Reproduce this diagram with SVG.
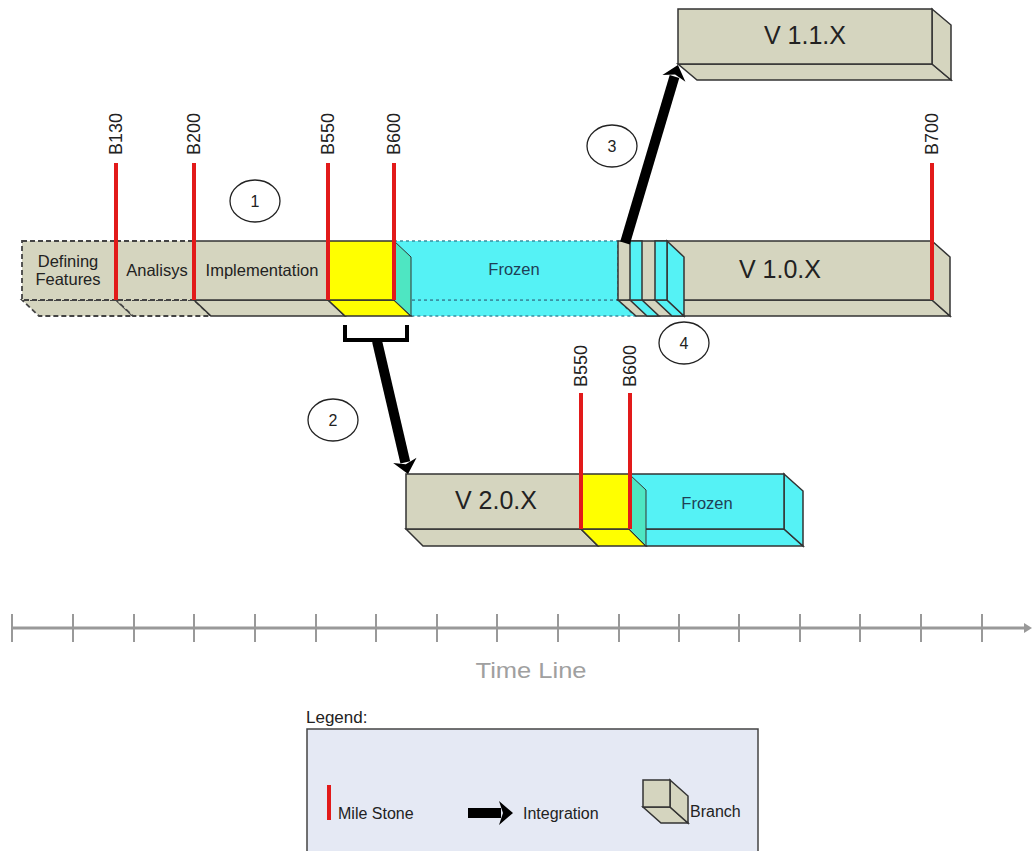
<svg xmlns="http://www.w3.org/2000/svg" width="1034" height="851" viewBox="0 0 1034 851">
<style>
text{font-family:"Liberation Sans",Arial,sans-serif;fill:#222}
.tan{fill:#d5d5bf;stroke:#333;stroke-width:1.5}
.tand{fill:#d5d5bf;stroke:#444;stroke-width:1.8;stroke-dasharray:5 3}
.yel{fill:#ffff00;stroke:#333;stroke-width:1.5}
.grn{fill:#4ee6c2;stroke:#333;stroke-width:1}
.cy{fill:#55f2f5;stroke:#333;stroke-width:1.5}
.cyd{fill:#55f2f5;stroke:#3a8fa0;stroke-width:1.5;stroke-dasharray:3 3}
.ms{stroke:#e21a1a;stroke-width:4;fill:none}
.lbl{font-size:18px}
.seg{font-size:16.5px;text-anchor:middle}
.big{font-size:25px;text-anchor:middle}
.num{fill:#fff;stroke:#222;stroke-width:1.3}
.numt{font-size:16px;text-anchor:middle}
.arr{stroke:#000;stroke-width:10;fill:none;marker-end:url(#ah)}
</style>
<defs>
<marker id="ah" markerUnits="userSpaceOnUse" markerWidth="20" markerHeight="28" viewBox="-3 -14 18 28" refX="0" refY="0" orient="auto">
<path d="M-2,-12 L12,0 L-2,12 L2,0 Z" fill="#000"/>
</marker>
<marker id="tah" markerUnits="userSpaceOnUse" markerWidth="10" markerHeight="12" viewBox="0 -6 10 12" refX="2" refY="0" orient="auto">
<path d="M0,-5 L8,0 L0,5 Z" fill="#999"/>
</marker>
</defs>

<!-- main branch V 1.0.X -->
<g id="seg-defining">
<polygon class="tand" points="22,300 116,300 133,316 39,316"/>
<rect class="tand" x="22" y="241" width="94" height="59"/>
<text class="seg" x="68" y="267">Defining</text>
<text class="seg" x="68" y="285">Features</text>
</g>
<g id="seg-analisys">
<polygon class="tand" points="116,300 194,300 211,316 133,316"/>
<rect class="tand" x="116" y="241" width="78" height="59"/>
<text class="seg" x="157" y="276">Analisys</text>
</g>
<g id="seg-implementation">
<polygon class="tan" points="194,300 328,300 345,316 211,316"/>
<rect class="tan" x="194" y="241" width="134" height="59"/>
<text class="seg" x="262" y="276">Implementation</text>
</g>
<g id="seg-frozen">
<polygon class="cyd" points="394,300 618,300 635,316 411,316"/>
<rect class="cyd" x="394" y="241" width="224" height="59"/>
<text class="seg" x="514" y="275" style="fill:#1f3f55">Frozen</text>
</g>
<g id="seg-yellow">
<polygon class="yel" points="328,300 394,300 411,316 345,316"/>
<polygon class="grn" points="394,241 411,257 411,316 394,300"/>
<rect class="yel" x="328" y="241" width="66" height="59"/>
</g>
<g id="v10">
<polygon class="tan" points="618,300 932,300 950,316 636,316"/>
<polygon class="tan" points="932,241 950,257 950,316 932,300"/>
<rect class="tan" x="618" y="241" width="314" height="59"/>
<polygon class="cy" points="630,300 642,300 659,316 647,316"/>
<rect class="cy" x="630" y="241" width="12" height="59"/>
<polygon class="cy" points="655,300 667,300 684,316 672,316"/>
<polygon class="cy" points="667,241 684,257 684,316 667,300"/>
<rect class="cy" x="655" y="241" width="12" height="59"/>
<text class="big" x="780" y="278">V 1.0.X</text>
</g>

<!-- V 1.1.X -->
<g id="v11">
<polygon class="tan" points="678,64 932,64 951,80 697,80"/>
<polygon class="tan" points="932,9 951,25 951,80 932,64"/>
<rect class="tan" x="678" y="9" width="254" height="55"/>
<text class="big" x="805" y="44">V 1.1.X</text>
</g>

<!-- V 2.0.X -->
<g id="v20">
<polygon class="tan" points="406,529 581,529 598,546 423,546"/>
<rect class="tan" x="406" y="474" width="175" height="55"/>
<polygon class="cy" points="629,529 784,529 803,546 646,546"/>
<polygon class="cy" points="784,474 803,491 803,546 784,529"/>
<rect class="cy" x="629" y="474" width="155" height="55"/>
<polygon class="yel" points="581,529 629,529 646,546 598,546"/>
<polygon class="grn" points="629,474 646,490 646,546 629,529"/>
<rect class="yel" x="581" y="474" width="48" height="55"/>
<text class="big" x="496" y="509">V 2.0.X</text>
<text class="seg" x="707" y="509" style="fill:#1f3f55">Frozen</text>
</g>

<!-- milestones -->
<g id="milestones">
<line class="ms" x1="116" y1="163" x2="116" y2="300"/>
<text class="lbl" transform="translate(122,155) rotate(-90)">B130</text>
<line class="ms" x1="194" y1="163" x2="194" y2="300"/>
<text class="lbl" transform="translate(200,155) rotate(-90)">B200</text>
<line class="ms" x1="328" y1="163" x2="328" y2="300"/>
<text class="lbl" transform="translate(334,155) rotate(-90)">B550</text>
<line class="ms" x1="394" y1="163" x2="394" y2="300"/>
<text class="lbl" transform="translate(400,155) rotate(-90)">B600</text>
<line class="ms" x1="932" y1="163" x2="932" y2="300"/>
<text class="lbl" transform="translate(938,155) rotate(-90)">B700</text>
<line class="ms" x1="581" y1="393" x2="581" y2="529"/>
<text class="lbl" transform="translate(587,387) rotate(-90)">B550</text>
<line class="ms" x1="630" y1="393" x2="630" y2="529"/>
<text class="lbl" transform="translate(636,387) rotate(-90)">B600</text>
</g>

<!-- connectors -->
<g id="connectors">
<path d="M345,325 V340 H407 V325" fill="none" stroke="#000" stroke-width="4"/>
<line class="arr" x1="377" y1="341" x2="405.3" y2="462.3"/>
<line class="arr" x1="625" y1="243" x2="674.5" y2="76.5"/>
</g>

<!-- step numbers -->
<g id="n1"><ellipse class="num" cx="255" cy="201" rx="25" ry="21"/><text class="numt" x="255" y="207">1</text></g>
<g id="n2"><ellipse class="num" cx="333" cy="420" rx="25" ry="21"/><text class="numt" x="333" y="426">2</text></g>
<g id="n3"><ellipse class="num" cx="612" cy="146" rx="25" ry="21"/><text class="numt" x="612" y="152">3</text></g>
<g id="n4"><ellipse class="num" cx="684" cy="343" rx="25" ry="21"/><text class="numt" x="684" y="349">4</text></g>

<!-- time line -->
<g id="timeline" stroke="#999" stroke-width="2">
<line x1="12" y1="628" x2="1026" y2="628" stroke-width="3" marker-end="url(#tah)"/>
<path d="M12,614V642M73,614V642M134,614V642M194,614V642M255,614V642M316,614V642M376,614V642M437,614V642M497,614V642M558,614V642M619,614V642M679,614V642M739,614V642M800,614V642M860,614V642M921,614V642M982,614V642"/>
<text x="531" y="678" stroke="none" style="fill:#a0a0a0;font-size:22px;text-anchor:middle" textLength="111" lengthAdjust="spacingAndGlyphs">Time Line</text>
</g>

<!-- legend -->
<g id="legend">
<text x="306" y="723" style="font-size:17px">Legend:</text>
<rect x="307" y="729" width="451" height="140" fill="#e5e9f4" stroke="#444" stroke-width="1.5"/>
<line class="ms" x1="329" y1="785" x2="329" y2="820"/>
<text x="338" y="819" style="font-size:16px">Mile Stone</text>
<line class="arr" x1="468" y1="813" x2="501" y2="813"/>
<text x="523" y="819" style="font-size:16px">Integration</text>
<polygon class="tan" points="643,807 670,807 688,823 661,823"/>
<polygon class="tan" points="670,780 688,796 688,823 670,807"/>
<rect class="tan" x="643" y="780" width="27" height="27"/>
<text x="690" y="817" style="font-size:16px">Branch</text>
</g>
</svg>
